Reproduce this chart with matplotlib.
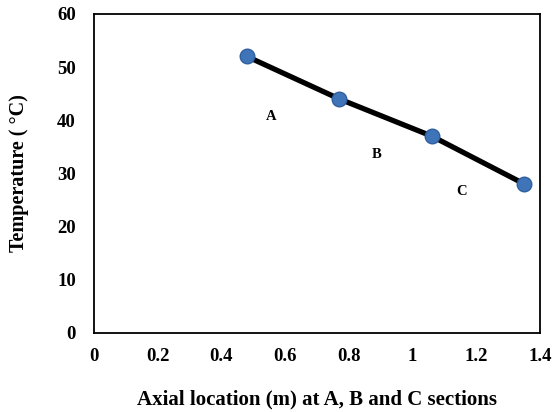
import matplotlib.pyplot as plt

# Data
x_pos = [0.48, 0.77, 1.06, 1.35]
temps = [52, 44, 37, 28]
sec_labels = ["A", "B", "C"]
sec_x = [0.557, 0.886, 1.155]
sec_y = [40.7, 33.5, 26.5]

plt.rcParams["font.family"] = ["Liberation Serif", "DejaVu Serif"]
plt.rcParams["font.weight"] = "bold"

fig = plt.figure(figsize=(5.53, 4.12), dpi=100)
ax = fig.add_axes([94 / 553, 1 - 332.5 / 412, 446 / 553, 318.5 / 412])

ax.plot(x_pos, temps, color="black", linewidth=3.8, zorder=2)
ax.plot(x_pos, temps, linestyle="none", marker="o", markersize=10.5,
        markerfacecolor="#3f74b9", markeredgecolor="#2f5f9e",
        markeredgewidth=1.0, zorder=3)

for lab, lx, ly in zip(sec_labels, sec_x, sec_y):
    ax.text(lx, ly, lab, ha="center", va="center", fontsize=10.5,
            fontweight="bold")

ax.set_xlim(0, 1.4)
ax.set_ylim(0, 60)
ax.set_xticks([0, 0.2, 0.4, 0.6, 0.8, 1.0, 1.2, 1.4])
ax.set_xticklabels(["0", "0.2", "0.4", "0.6", "0.8", "1", "1.2", "1.4"])
ax.set_yticks(range(0, 61, 10))
ax.tick_params(length=0, labelsize=13.5)
ax.tick_params(axis="x", pad=11)
ax.tick_params(axis="y", pad=13)
for lab in ax.get_xticklabels() + ax.get_yticklabels():
    lab.set_fontweight("bold")
for sp in ax.spines.values():
    sp.set_linewidth(1.3)

ax.set_xlabel("Axial location (m) at A, B and C sections", fontsize=15,
              fontweight="bold", labelpad=18)
ax.set_ylabel("Temperature ( °C)", fontsize=14.5, fontweight="bold",
              labelpad=20)

fig.savefig("out.png", dpi=100)
